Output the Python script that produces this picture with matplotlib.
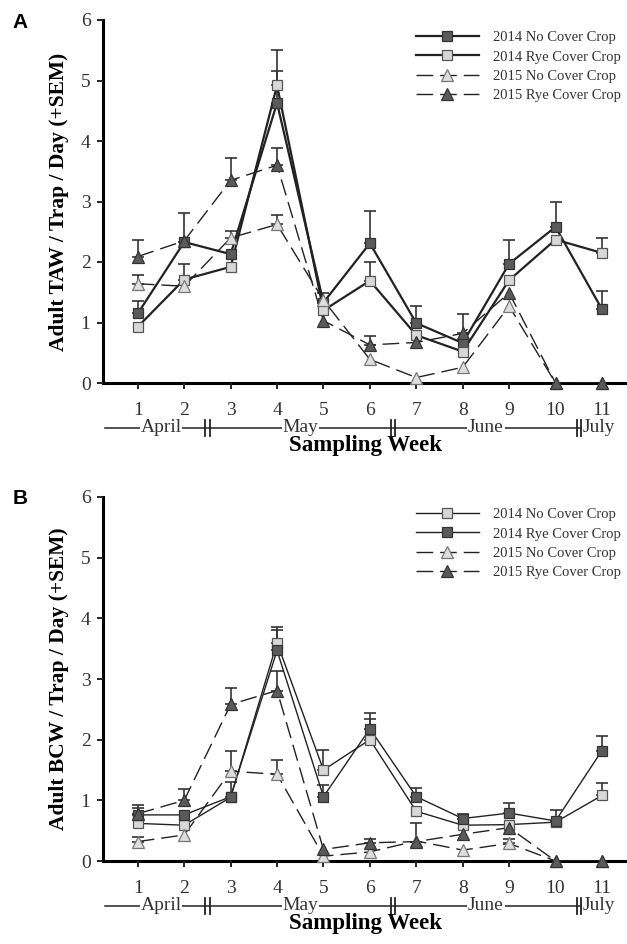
import numpy as np
import matplotlib
matplotlib.use("Agg")
import matplotlib.pyplot as plt
from matplotlib.lines import Line2D

# ===============================
# Data
# ===============================
weeks = [1, 2, 3, 4, 5, 6, 7, 8, 9, 10, 11]
week_labels = ["1", "2", "3", "4", "5", "6", "7", "8", "9", "10", "11"]

month_names = ["April", "May", "June", "July"]
month_centers = [1.5, 4.5, 8.5, 10.58]
month_breaks = [2.5, 6.5, 10.5]

series_labels = ["2014 No Cover Crop", "2014 Rye Cover Crop",
                 "2015 No Cover Crop", "2015 Rye Cover Crop"]

# Panel A - TAW
taw_nc14 = [1.15, 2.33, 2.13, 4.63, 1.33, 2.31, 0.99, 0.66, 1.97, 2.58, 1.22]
taw_nc14_sem = [0.20, 0.48, 0, 0.52, 0.15, 0.54, 0.28, 0, 0.39, 0.42, 0.30]
taw_rye14 = [0.93, 1.71, 1.92, 4.92, 1.20, 1.69, 0.79, 0.52, 1.70, 2.37, 2.15]
taw_rye14_sem = [0, 0.26, 0, 0.58, 0, 0.31, 0, 0, 0, 0, 0.25]
taw_nc15 = [1.64, 1.60, 2.40, 2.62, 1.37, 0.39, 0.09, 0.26, 1.27, 0, 0]
taw_nc15_sem = [0.14, 0, 0.12, 0.15, 0, 0, 0, 0, 0, 0, 0]
taw_rye15 = [2.09, 2.35, 3.35, 3.60, 1.03, 0.63, 0.67, 0.82, 1.49, 0, 0]
taw_rye15_sem = [0.28, 0, 0.37, 0.29, 0, 0.15, 0, 0.32, 0, 0, 0]

# Panel B - BCW
bcw_nc14 = [0.62, 0.59, 1.05, 3.60, 1.50, 2.00, 0.82, 0.59, 0.60, 0.64, 1.08]
bcw_nc14_sem = [0, 0, 0, 0.25, 0.33, 0.34, 0, 0, 0, 0, 0.21]
bcw_rye14 = [0.76, 0.76, 1.06, 3.47, 1.06, 2.18, 1.06, 0.70, 0.79, 0.66, 1.82]
bcw_rye14_sem = [0.16, 0, 0.24, 0.33, 0.19, 0.26, 0.15, 0.08, 0.16, 0.18, 0.24]
bcw_nc15 = [0.32, 0.43, 1.48, 1.43, 0.08, 0.15, 0.33, 0.18, 0.29, 0, 0]
bcw_nc15_sem = [0.08, 0, 0.33, 0.24, 0, 0, 0, 0, 0.08, 0, 0]
bcw_rye15 = [0.78, 1.00, 2.58, 2.81, 0.19, 0.30, 0.32, 0.44, 0.55, 0, 0]
bcw_rye15_sem = [0.09, 0.18, 0.27, 0.33, 0, 0.07, 0.30, 0, 0, 0, 0]

# -------------------------------
# Styles
# -------------------------------
DARK = "#5a5a5a"
LIGHT = "#d8d8d8"
LINE = "#222222"
DASH = (0, (12, 5))

plt.rcParams["font.family"] = "Liberation Serif"

W, H = 627, 944
fig = plt.figure(figsize=(W / 100, H / 100), dpi=100)


def draw_panel(ax_px, series, solid_lw, letter, ylabel):
    left, top, bottom = ax_px
    ax = fig.add_axes([left / W, 1 - bottom / H, 1 - left / W, (bottom - top) / H])
    hpx = bottom - top

    handles = []
    for vals, sem, st in series:
        x = np.array(weeks)
        y = np.array(vals)
        e = np.array(sem)
        ls = "-" if st["solid"] else DASH
        lw = solid_lw if st["solid"] else 1.0
        mask = e > 0
        ax.errorbar(x[mask], y[mask], yerr=[np.zeros(mask.sum()), e[mask]],
                    fmt="none", ecolor="#333333", elinewidth=1.2,
                    capsize=4.5, capthick=1.2, zorder=2)
        ax.plot(x, y, linestyle=ls, color=LINE, lw=lw, zorder=3)
        ax.plot(x, y, linestyle="none", marker=st["marker"], ms=st["ms"],
                markerfacecolor=st["fc"], markeredgecolor=st["ec"],
                markeredgewidth=0.9, zorder=4, clip_on=False)
        handles.append(Line2D([], [], linestyle=ls, color=LINE, lw=lw,
                              marker=st["marker"], ms=st["ms"],
                              markerfacecolor=st["fc"], markeredgecolor=st["ec"],
                              markeredgewidth=0.9))

    ax.set_xlim(0.25, 11.54)
    ax.set_ylim(0, 6)
    ax.set_yticks(range(7))
    ax.set_xticks(weeks)
    ax.set_xticklabels(week_labels)
    for s in ["top", "right"]:
        ax.spines[s].set_visible(False)
    for s in ["left", "bottom"]:
        ax.spines[s].set_linewidth(2.2)
        ax.spines[s].set_color("black")
        ax.spines[s].set_zorder(1)
    ax.tick_params(axis="both", direction="out", length=4, width=1.4,
                   labelsize=14, colors="#222222")
    ax.tick_params(axis="x", pad=10)
    ax.tick_params(axis="y", pad=5)
    for lab in ax.get_xticklabels() + ax.get_yticklabels():
        lab.set_color("#333333")

    # month row under the week numbers
    tr = ax.get_xaxis_transform()
    ym = -(428 - 383) / hpx
    ax.plot([0.3, 10.56], [ym, ym], transform=tr, color="#222222", lw=1.1,
            clip_on=False)
    dy = 8 / hpx
    for b in month_breaks:
        for off in (-0.045, 0.045):
            ax.plot([b + off, b + off], [ym - dy, ym + dy], transform=tr,
                    color="#222222", lw=1.3, clip_on=False)
    for name, c in zip(month_names, month_centers):
        ha = "left" if name == "July" else "center"
        ax.text(c, ym, name, transform=tr, ha=ha, va="center", fontsize=14,
                color="#333333",
                bbox=dict(facecolor="white", edgecolor="none", pad=0.6))
    ax.text(5.9, -(446 - 383) / hpx, "Sampling Week", transform=tr,
            ha="center", va="center", fontsize=16.5, fontweight="bold")

    ax.set_ylabel(ylabel, fontsize=15.5, fontweight="bold")
    ax.yaxis.set_label_coords(-(left - 69) / (W - left), 0.5)

    fig.text(20 / W, 1 - (top + 2) / H, letter, family="Liberation Sans",
             fontsize=15, fontweight="bold", ha="center", va="center")

    ax.legend(handles, series_labels, loc="upper left",
              bbox_to_anchor=(416 / W, 1 - (top + 11) / H),
              bbox_transform=fig.transFigure, frameon=False,
              fontsize=10.5, handlelength=4.3, handletextpad=1.0,
              labelspacing=0.42, borderpad=0, borderaxespad=0, numpoints=1,
              labelcolor="#333333")
    return ax


dark_sq = dict(solid=True, marker="s", ms=7.5, fc=DARK, ec="#333333")
light_sq = dict(solid=True, marker="s", ms=7.5, fc=LIGHT, ec="#555555")
light_tri = dict(solid=False, marker="^", ms=8, fc="#dddddd", ec="#777777")
dark_tri = dict(solid=False, marker="^", ms=8, fc=DARK, ec="#333333")

draw_panel((103, 20, 383),
           [(taw_nc14, taw_nc14_sem, dark_sq),
            (taw_rye14, taw_rye14_sem, light_sq),
            (taw_nc15, taw_nc15_sem, light_tri),
            (taw_rye15, taw_rye15_sem, dark_tri)],
           1.6, "A", "Adult TAW / Trap / Day (+SEM)")

draw_panel((103, 497, 861),
           [(bcw_nc14, bcw_nc14_sem, light_sq),
            (bcw_rye14, bcw_rye14_sem, dark_sq),
            (bcw_nc15, bcw_nc15_sem, light_tri),
            (bcw_rye15, bcw_rye15_sem, dark_tri)],
           1.0, "B", "Adult BCW / Trap / Day (+SEM)")

fig.savefig("out.png", dpi=100)
